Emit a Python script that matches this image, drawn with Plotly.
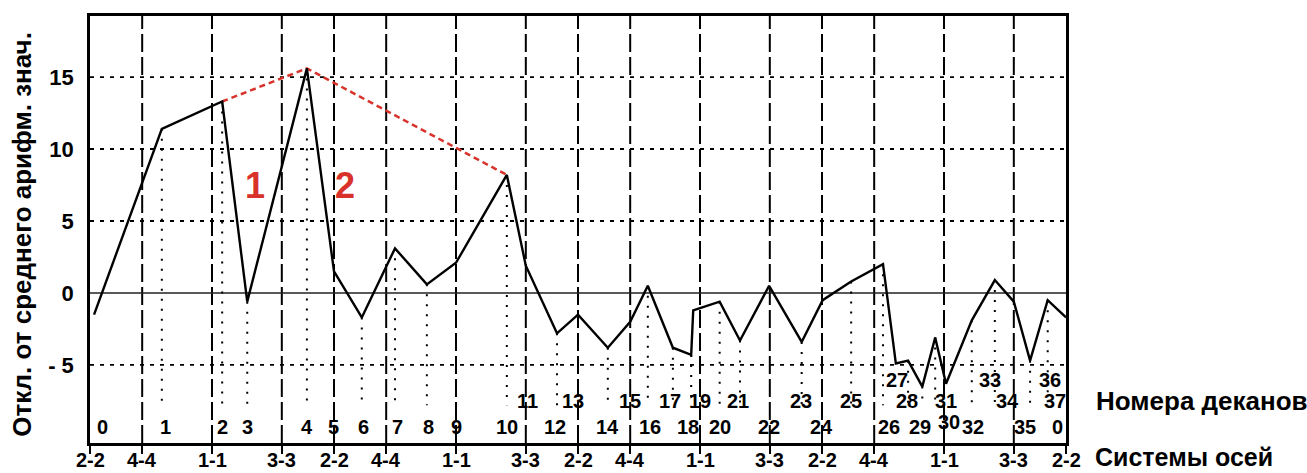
import plotly.graph_objects as go

# ---------------- data ----------------
# horizontal axis: degrees along 4 cycles of axis systems (0..1440)
axis_tick_x = [0, 77, 180, 283, 360, 437, 540, 643, 720, 797, 900, 1003, 1080, 1157, 1260, 1363, 1440]
axis_tick_text = ["2-2", "4-4", "1-1", "3-3"] * 4 + ["2-2"]

# decan vertices (0..36, then closing point)
decan_x = [6, 106, 195, 232, 320, 360, 401, 450, 497, 540, 615, 643, 689, 720, 764, 797,
           823, 860, 887, 890, 929, 959, 1002, 1050, 1081, 1123, 1170, 1189, 1207, 1228,
           1247, 1263, 1301, 1335, 1363, 1387, 1413, 1440]
decan_value = [-1.5, 11.4, 13.3, -0.6, 15.6, 1.5, -1.7, 3.1, 0.6, 2.1, 8.2, 1.9, -2.8, -1.5,
               -3.8, -2.0, 0.5, -3.8, -4.3, -1.2, -0.6, -3.3, 0.5, -3.4, -0.5, 0.8, 2.0,
               -4.9, -4.7, -6.5, -3.1, -6.3, -1.9, 0.9, -0.6, -4.7, -0.5, -1.7]

# decans that have a dotted drop line
dotted_decans = [1, 2, 3, 4, 6, 7, 8, 10, 12, 14, 16, 17, 18, 20, 21, 23, 25, 26, 28, 29, 30, 32, 33, 35, 36]
dotted_bottom = -7.8

# envelope (red dashed) through decans
envelope_decans = [2, 4, 10]

# decan number labels: text, x (degrees), y (value units)
label_text = ["0", "1", "2", "3", "4", "5", "6", "7", "8", "9", "10", "12", "14", "16", "18", "20",
              "22", "24", "26", "29", "32", "35", "0",
              "30",
              "11", "13", "15", "17", "19", "21", "23", "25", "28", "31", "34", "37",
              "27", "33", "36"]
label_x = [19, 112, 196, 233, 320, 359, 403, 453, 499, 540, 615, 686, 764, 826, 882, 929,
           1002, 1079, 1179, 1224, 1303, 1380, 1428,
           1267,
           645, 713, 797, 856, 900, 956, 1049, 1123, 1205, 1263, 1354, 1424,
           1191, 1328, 1416]
label_y = [-9.3] * 23 + [-8.95] + [-7.5] * 12 + [-6.05] * 3

y_tick_vals = [-5, 0, 5, 10, 15]
y_tick_text = ["- 5", "0", "5", "10", "15"]

# ---------------- figure ----------------
X0, X1 = 0, 1440
Y0, Y1 = -10.42, 19.24
FONT = "Liberation Sans, Arial, sans-serif"
RED = "#d8322b"

fig = go.Figure()
shapes = []

# horizontal dotted gridlines
for v in [-5, 5, 10, 15]:
    shapes.append(dict(type="line", xref="x", yref="y", x0=X0, x1=X1, y0=v, y1=v,
                       line=dict(color="black", width=1.8, dash="4px,6px"), layer="below"))
# zero line
shapes.append(dict(type="line", xref="x", yref="y", x0=X0, x1=X1, y0=0, y1=0,
                   line=dict(color="#222", width=1.6), layer="below"))
# vertical dashed axis-system lines
for xv in axis_tick_x[1:-1]:
    shapes.append(dict(type="line", xref="x", yref="paper", x0=xv, x1=xv, y0=0, y1=1,
                       line=dict(color="black", width=2, dash="18px,5px"), layer="below"))
# dotted drop lines
for i in dotted_decans:
    shapes.append(dict(type="line", xref="x", yref="y", x0=decan_x[i], x1=decan_x[i],
                       y0=decan_value[i], y1=dotted_bottom,
                       line=dict(color="black", width=2, dash="2px,8px"), layer="below"))

# red envelope
fig.add_trace(go.Scatter(x=[decan_x[i] for i in envelope_decans],
                         y=[decan_value[i] for i in envelope_decans],
                         mode="lines", line=dict(color=RED, width=2.5, dash="6px,4px"),
                         hoverinfo="skip", showlegend=False))
# main line
fig.add_trace(go.Scatter(x=decan_x, y=decan_value, mode="lines",
                         line=dict(color="black", width=2.4), showlegend=False))

annotations = []
for t, xv, yv in zip(label_text, label_x, label_y):
    annotations.append(dict(x=xv, y=yv, xref="x", yref="y", text=f"<b>{t}</b>", showarrow=False,
                            font=dict(family=FONT, size=20, color="black"),
                            xanchor="center", yanchor="middle"))
# axis-system tick labels (below the axis), kept inside the canvas
for xv, t in zip(axis_tick_x, axis_tick_text):
    annotations.append(dict(x=xv, y=-0.0679, xref="x", yref="paper", text=f"<b>{t}</b>",
                            showarrow=False, xanchor="center", yanchor="bottom",
                            borderpad=0, font=dict(family=FONT, size=20, color="black")))
# red region markers
annotations.append(dict(x=243, y=7.5, xref="x", yref="y", text="<b>1</b>", showarrow=False,
                        font=dict(family=FONT, size=36, color=RED)))
annotations.append(dict(x=376, y=7.5, xref="x", yref="y", text="<b>2</b>", showarrow=False,
                        font=dict(family=FONT, size=36, color=RED)))
# side titles
annotations.append(dict(x=1.0287, y=-7.5, xref="paper", yref="y", text="<b>Номера деканов</b>",
                        showarrow=False, xanchor="left", yanchor="middle",
                        font=dict(family=FONT, size=26, color="black")))
annotations.append(dict(x=1.0287, y=-0.0679, xref="paper", yref="paper", text="<b>Системы осей</b>",
                        showarrow=False, xanchor="left", yanchor="bottom",
                        borderpad=0, font=dict(family=FONT, size=25, color="black")))
annotations.append(dict(x=-0.0697, y=0.49, xref="paper", yref="paper",
                        text="<b>Откл. от среднего арифм. знач.</b>", textangle=-90,
                        showarrow=False, xanchor="center", yanchor="middle",
                        font=dict(family=FONT, size=26, color="black")))

fig.update_layout(
    width=1307, height=473, autosize=False,
    margin=dict(l=90, r=241, t=16, b=30, pad=0),
    plot_bgcolor="white", paper_bgcolor="white",
    shapes=shapes, annotations=annotations,
    xaxis=dict(range=[X0, X1], showgrid=False, zeroline=False, automargin=False,
               tickvals=axis_tick_x, showticklabels=False,
               ticks="outside", ticklen=8, tickwidth=2, tickcolor="black",
               showline=True, linewidth=2.5, linecolor="black", mirror=True),
    yaxis=dict(range=[Y0, Y1], showgrid=False, zeroline=False, automargin=False,
               tickvals=y_tick_vals, ticktext=[f"<b>{t}</b>" for t in y_tick_text],
               ticks="outside", ticklen=9, tickcolor="rgba(0,0,0,0)",
               tickfont=dict(family=FONT, size=22, color="black"),
               showline=True, linewidth=2.5, linecolor="black", mirror=True),
)

fig.write_html("out.html", config={"displayModeBar": False},
               post_script="document.body.style.margin='0';")
